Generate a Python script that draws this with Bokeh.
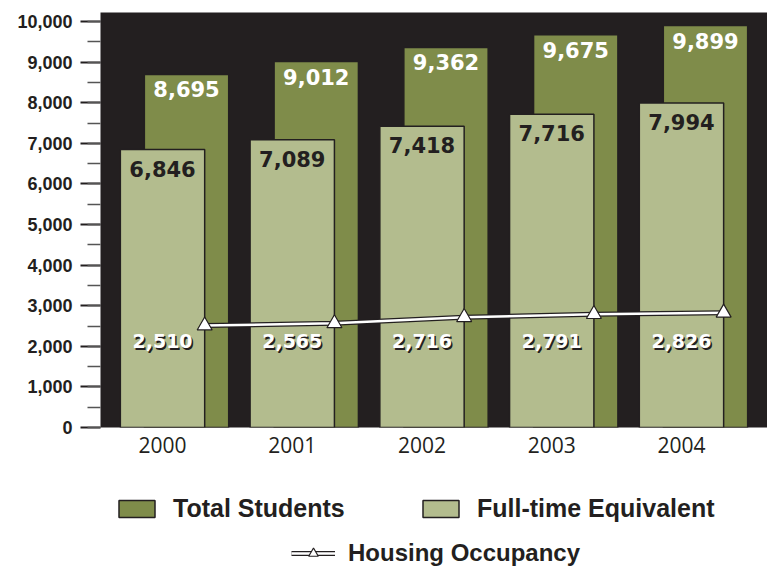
from bokeh.plotting import figure
from bokeh.layouts import column
from bokeh.models import (ColumnDataSource, SingleIntervalTicker, FixedTicker,
                          Legend, LegendItem, NumeralTickFormatter)
from bokeh.core.properties import value
from bokeh.embed import file_html
from bokeh.resources import INLINE

# ---- data ----
years = ["2000", "2001", "2002", "2003", "2004"]
total_students = [8695, 9012, 9362, 9675, 9899]
full_time_equivalent = [6846, 7089, 7418, 7716, 7994]
housing_occupancy = [2510, 2565, 2716, 2791, 2826]

# ---- style ----
DARK = "#231f20"
OLIVE = "#7f8c4a"
SAGE = "#b3bc8e"
BAR_W = 0.65
TOTAL_SHIFT = 0.185
HOUSING_LABEL_Y = 2120
NUM_FONT = value("DejaVu Sans")
SANS_BOLD = "Liberation Sans"

idx = list(range(len(years)))
src = ColumnDataSource(dict(
    x=idx,
    xt=[i + TOTAL_SHIFT for i in idx],
    xh=[i + BAR_W / 2 for i in idx],
    total=total_students,
    fte=full_time_equivalent,
    housing=housing_occupancy,
    total_lbl=[f"{v:,}" for v in total_students],
    fte_lbl=[f"{v:,}" for v in full_time_equivalent],
    housing_lbl=[f"{v:,}" for v in housing_occupancy],
    hy=[HOUSING_LABEL_Y] * len(years),
))

p = figure(frame_width=667, frame_height=415, output_backend="svg",
           toolbar_location=None,
           x_range=(-0.478, 4.663), y_range=(0, 10222),
           min_border_left=100, min_border_right=0, min_border_top=12,
           min_border_bottom=50)
p.background_fill_color = DARK
p.border_fill_color = "white"
p.outline_line_color = None
p.grid.visible = False

bar_total = dict(fill_color=OLIVE, line_color=DARK, line_width=1.5)
bar_fte = dict(fill_color=SAGE, line_color=DARK, line_width=1.5)
line_dark = dict(line_color=DARK, line_width=5)
line_white = dict(line_color="white", line_width=2.5)
tri = dict(marker="triangle", fill_color="white", line_color=DARK, line_width=1.2)

p.vbar(x="xt", top="total", bottom=0, width=BAR_W, source=src, **bar_total)
p.vbar(x="x", top="fte", bottom=0, width=BAR_W, source=src, **bar_fte)
p.line(x="xh", y="housing", source=src, **line_dark)
p.line(x="xh", y="housing", source=src, **line_white)
p.scatter(x="xh", y="housing", source=src, size=15, **tri)

p.text(x="xt", y="total", text="total_lbl", source=src, text_color="white",
       text_font=NUM_FONT, text_font_style="bold", text_font_size="21px",
       text_align="center", text_baseline="middle", y_offset=15)
p.text(x="x", y="fte", text="fte_lbl", source=src, text_color=DARK,
       text_font=NUM_FONT, text_font_style="bold", text_font_size="21px",
       text_align="center", text_baseline="middle", y_offset=19)
p.text(x="x", y="hy", text="housing_lbl", source=src, text_color=DARK,
       text_font=NUM_FONT, text_font_style="bold", text_font_size="19px",
       text_align="center", text_baseline="middle", x_offset=1.5, y_offset=1.5)
p.text(x="x", y="hy", text="housing_lbl", source=src, text_color="white",
       text_font=NUM_FONT, text_font_style="bold", text_font_size="19px",
       text_align="center", text_baseline="middle")

# y axis
ya = p.yaxis[0]
ya.ticker = SingleIntervalTicker(interval=1000, num_minor_ticks=2)
ya.formatter = NumeralTickFormatter(format="0,0")
ya.axis_line_color = None
ya.major_tick_out = 20
ya.major_tick_in = 0
ya.minor_tick_out = 13
ya.minor_tick_in = 0
ya.major_tick_line_color = DARK
ya.major_tick_line_width = 2
ya.minor_tick_line_color = "#555555"
ya.minor_tick_line_width = 1.5
ya.major_label_standoff = 8
ya.major_label_text_font = SANS_BOLD
ya.major_label_text_font_style = "bold"
ya.major_label_text_font_size = "18px"
ya.major_label_text_color = DARK

# x axis
xa = p.xaxis[0]
xa.ticker = FixedTicker(ticks=idx)
xa.major_label_overrides = {i: years[i] for i in idx}
xa.axis_line_color = None
xa.major_tick_out = 0
xa.major_tick_in = 0
xa.minor_tick_out = 0
xa.minor_tick_in = 0
xa.major_label_standoff = 9
xa.major_label_text_font = "Open Sans"
xa.major_label_text_font_size = "21px"
xa.major_label_text_color = DARK

# ---- legend strip: second figure holding hidden copies of the series,
#      so only their legend keys are drawn ----
q = figure(width=767, height=90, output_backend="svg", toolbar_location=None,
           x_axis_type=None, y_axis_type=None, x_range=(-0.478, 4.663),
           y_range=(-2000, -1000), min_border=0)
q.outline_line_color = None
q.grid.visible = False
k_total = q.vbar(x="xt", top="total", bottom=0, width=BAR_W, source=src, **bar_total)
k_fte = q.vbar(x="x", top="fte", bottom=0, width=BAR_W, source=src, **bar_fte)
k_l1 = q.line(x="xh", y="housing", source=src, **line_dark)
k_l2 = q.line(x="xh", y="housing", source=src, **line_white)
k_tri = q.scatter(x="xh", y="housing", source=src, size=15, **tri)
for r in (k_total, k_fte, k_l1, k_l2, k_tri):
    r.visible = False

legend_common = dict(padding=0, margin=0, border_line_color=None,
                     background_fill_alpha=0, label_text_font=SANS_BOLD,
                     label_text_font_style="bold", label_text_color=DARK,
                     orientation="horizontal", inactive_fill_alpha=0)
leg1 = Legend(items=[LegendItem(label="Total Students", renderers=[k_total], index=0),
                     LegendItem(label="Full-time Equivalent", renderers=[k_fte], index=0)],
              location=(14, 44), glyph_width=45, glyph_height=21,
              label_height=21, label_width=180, label_standoff=14, spacing=65,
              label_text_font_size="25px", **legend_common)
leg2 = Legend(items=[LegendItem(label="Housing Occupancy",
                                renderers=[k_l1, k_l2, k_tri], index=0)],
              location=(191, 0), glyph_width=44, glyph_height=24,
              label_height=24, label_standoff=13, label_text_font_size="24px",
              **legend_common)
q.add_layout(leg1, "center")
q.add_layout(leg2, "center")

open("out.html", "w").write(file_html(column(p, q), INLINE))
